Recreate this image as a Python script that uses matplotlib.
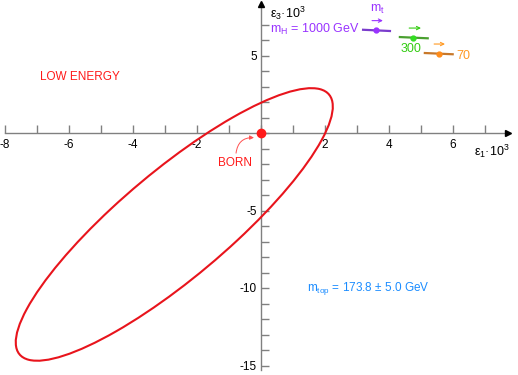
import numpy as np
import matplotlib
matplotlib.use("Agg")
import matplotlib.pyplot as plt
from matplotlib.patches import Ellipse

plt.rcParams['font.family'] = ['Liberation Sans', 'DejaVu Sans']
plt.rcParams['mathtext.fontset'] = 'custom'
plt.rcParams['mathtext.rm'] = 'Liberation Sans'
plt.rcParams['mathtext.it'] = 'Liberation Sans:italic'
plt.rcParams['mathtext.bf'] = 'Liberation Sans:bold'

# ---- data ----
x_ticks = list(range(-8, 8))
x_ticklabels = ['-8', '', '-6', '', '-4', '', '-2', '', '', '', '2', '', '4', '', '6', '']
y_ticks = list(range(-15, 8))
y_ticklabels = {5: '5', -5: '-5', -10: '-10', -15: '-15'}

mh_labels = ['1000', '300', '70']
eps1 = [3.59, 4.76, 5.57]
eps3 = [6.62, 6.15, 5.12]
eps1_lo = [3.19, 4.34, 5.12]
eps1_hi = [4.03, 5.21, 5.99]
eps3_lo = [6.66, 6.19, 5.16]
eps3_hi = [6.58, 6.11, 5.08]
line_colors = ['#7a3ccc', '#4aa030', '#c8782a']
dot_colors = ['#9933ff', '#33dd22', '#ff8c1a']
text_colors = ['#9933ff', '#33cc11', '#ff9922']

# direction-of-increasing-m_t arrows (start, end of eps1, at eps3 level)
arrow_x0 = [3.47, 4.63, 5.41]
arrow_x1 = [3.81, 5.00, 5.75]
arrow_y = [7.25, 6.77, 5.74]

ell_center = (-2.71, -5.90)
ell_width = 19.69
ell_height = 4.44
ell_angle = 62.5

born = (0.0, 0.0)

# ---- figure ----
fig = plt.figure(figsize=(5.18, 3.75), dpi=100)
ax = fig.add_axes([0, 0, 1, 1])
ax.set_xlim(-261 / 32, (518 - 261) / 32)
ax.set_ylim(-(375 - 133) / 15.5, 133 / 15.5)

gray = '#808080'
for s in ['top', 'right']:
    ax.spines[s].set_visible(False)
ax.spines['left'].set_position(('data', 0))
ax.spines['bottom'].set_position(('data', 0))
ax.spines['bottom'].set_bounds(-8, 7.7)
ax.spines['left'].set_bounds(-15.3, 8.3)
for s in ['left', 'bottom']:
    ax.spines[s].set_color(gray)
    ax.spines[s].set_linewidth(1.0)
ax.plot([7.72], [0], marker='>', color='black', ms=5, clip_on=False, zorder=5)
ax.plot([0], [8.3], marker='^', color='black', ms=5, clip_on=False, zorder=5)

ax.set_xticks(x_ticks)
ax.set_xticklabels(x_ticklabels)
ax.set_yticks(y_ticks)
ax.set_yticklabels([y_ticklabels.get(v, '') for v in y_ticks])
ax.tick_params(axis='both', direction='in', length=6, width=1, color=gray,
               labelsize=8.5, pad=4)
ax.tick_params(axis='y', pad=3)

# ellipse
ax.add_patch(Ellipse(ell_center, ell_width, ell_height, angle=ell_angle,
                     fill=False, edgecolor='#e8141c', lw=1.5, zorder=3))

# Born point
ax.plot([born[0]], [born[1]], 'o', color='#ff1a1a', ms=6, zorder=6, clip_on=False)
ax.text(-0.8, -1.95, 'BORN', ha='center', va='center', color='#ff1a1a', fontsize=8.5)
ax.annotate('', xy=(-0.22, -0.3), xytext=(-0.78, -1.3),
            arrowprops=dict(arrowstyle='-|>', color='#ff5050', lw=0.7,
                            mutation_scale=6, shrinkA=0, shrinkB=0,
                            connectionstyle='arc3,rad=-0.45'))

ax.text(-5.66, 3.6, 'LOW ENERGY', color='#ff1a1a', fontsize=8.5, ha='center', va='center')

# mH points
for i in range(3):
    ax.plot([eps1_lo[i], eps1_hi[i]], [eps3_lo[i], eps3_hi[i]], color=line_colors[i], lw=1.6, zorder=4)
    ax.plot([eps1[i]], [eps3[i]], 'o', color=dot_colors[i], ms=3.5, zorder=5)
    ax.annotate('', xy=(arrow_x1[i], arrow_y[i]), xytext=(arrow_x0[i], arrow_y[i]),
                arrowprops=dict(arrowstyle='->', color=text_colors[i], lw=0.8,
                                mutation_scale=6, shrinkA=0, shrinkB=0))

ax.text(3.09, 6.66, r'm$_\mathrm{H}$ = ' + mh_labels[0] + ' GeV', color=text_colors[0],
        fontsize=9, ha='right', va='center')
ax.text(4.69, 5.45, mh_labels[1], color=text_colors[1], fontsize=9, ha='center', va='center')
ax.text(6.09, 4.97, mh_labels[2], color=text_colors[2], fontsize=9, ha='left', va='center')

ax.text(3.64, 7.95, r'm$_\mathrm{t}$', color=text_colors[0], fontsize=9, ha='center', va='center')

ax.text(1.44, -10.06, r'm$_\mathrm{top}$ = 173.8 $\pm$ 5.0 GeV', color='#1a8cff',
        fontsize=8.5, ha='left', va='center')

ax.text(6.66, -1.2, 'ε$_1$·10$^3$', fontsize=9, ha='left', va='center')
ax.text(0.28, 7.75, 'ε$_3$·10$^3$', fontsize=9, ha='left', va='center')

fig.savefig('out.png', dpi=100)
